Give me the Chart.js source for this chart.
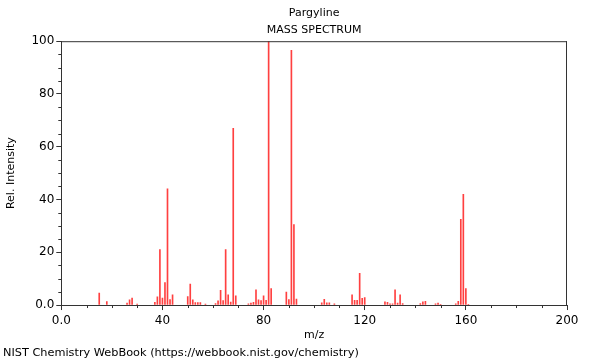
<!DOCTYPE html>
<html>
<head>
<meta charset="utf-8">
<script src="https://cdn.jsdelivr.net/npm/chart.js@4"></script>
<style>
  html, body { margin: 0; padding: 0; background: #fff; }
  #wrap { width: 600px; height: 360px; }
</style>
</head>
<body>
<div id="wrap"><canvas id="spectrum" width="600" height="360"></canvas></div>
<script>
// m/z values and relative intensities
const mz = [15, 18, 26, 27, 28, 30, 37, 38, 39, 40, 41, 42, 43, 44,
  50, 51, 52, 53, 54, 55, 57, 61, 62, 63, 64, 65, 66, 67, 68, 69,
  74, 75, 76, 77, 78, 79, 80, 81, 82, 83, 89, 90, 91, 92, 93,
  103, 104, 105, 106, 108, 115, 116, 117, 118, 119, 120,
  128, 129, 130, 131, 132, 133, 134, 135, 142, 143, 144,
  148, 149, 150, 156, 157, 158, 159, 160, 161];
const intensity = [4.5, 1.3, 0.7, 2.0, 2.6, 0.4, 1.0, 3.1, 21, 2.6, 8.5, 44, 2.1, 3.9,
  3.2, 7.9, 2.0, 0.9, 0.9, 0.9, 0.4, 0.6, 1.6, 5.6, 1.7, 21, 3.9, 1.1, 67, 3.5,
  0.5, 0.7, 1.0, 5.8, 2.0, 1.7, 3.5, 1.8, 100, 6.2, 4.9, 2.1, 96.5, 30.5, 2.3,
  0.8, 2.2, 0.8, 0.8, 0.5, 3.9, 1.8, 1.8, 12, 2.5, 2.8,
  1.2, 1.0, 0.5, 0.5, 5.8, 0.7, 3.9, 0.6, 0.6, 1.2, 1.4,
  0.5, 0.7, 0.3, 0.5, 1.4, 32.5, 42, 6.2, 0.3];

const xMajor = [0, 40, 80, 120, 160, 200];
const yMajor = [0, 20, 40, 60, 80, 100];

const font = "'DejaVu Sans', sans-serif";
const axisColor = '#333';

const peaks = mz.map(function (m, i) { return { x: m, y: intensity[i] }; });

function tickLabel(v) {
  return v === 0 ? '0.0' : String(v);
}

// top/right frame lines and short minor ticks
const frame = {
  id: 'frame',
  afterDraw(chart) {
    const ctx = chart.ctx;
    const a = chart.chartArea;
    ctx.save();
    ctx.strokeStyle = axisColor;
    ctx.lineWidth = 1;
    ctx.beginPath();
    ctx.moveTo(a.left, a.top + 0.5);
    ctx.lineTo(a.right, a.top + 0.5);
    ctx.moveTo(a.right - 0.5, a.top);
    ctx.lineTo(a.right - 0.5, a.bottom);
    ctx.stroke();

    ctx.beginPath();
    const xs = chart.scales.x;
    xs.ticks.forEach(function (t) {
      if (xMajor.indexOf(t.value) < 0) {
        const px = Math.round(xs.getPixelForValue(t.value)) + 0.5;
        ctx.moveTo(px, a.bottom);
        ctx.lineTo(px, a.bottom + 3);
      }
    });
    const ys = chart.scales.y;
    ys.ticks.forEach(function (t) {
      if (yMajor.indexOf(t.value) < 0) {
        const py = Math.round(ys.getPixelForValue(t.value)) + 0.5;
        ctx.moveTo(a.left, py);
        ctx.lineTo(a.left - 3, py);
      }
    });
    ctx.stroke();
    ctx.restore();
  }
};

new Chart(document.getElementById('spectrum').getContext('2d'), {
  type: 'bar',
  data: {
    datasets: [{
      data: peaks,
      backgroundColor: 'rgba(255,0,0,0.75)',
      borderWidth: 0,
      barThickness: 1
    }]
  },
  options: {
    responsive: false,
    animation: false,
    layout: { padding: { left: 3, right: 33, top: 0, bottom: 0 } },
    plugins: {
      legend: { display: false },
      tooltip: { enabled: false },
      title: {
        display: true,
        text: ['Pargyline', 'MASS SPECTRUM'],
        fullSize: false,
        color: '#000',
        font: { family: font, size: 11, weight: 'normal', lineHeight: 1.6 },
        padding: { top: 4, bottom: 2 }
      },
      subtitle: {
        display: true,
        position: 'bottom',
        align: 'start',
        text: 'NIST Chemistry WebBook (https://webbook.nist.gov/chemistry)',
        color: '#000',
        font: { family: font, size: 11.3, weight: 'normal', lineHeight: 1.2 },
        padding: { top: 2, bottom: 0 }
      }
    },
    scales: {
      x: {
        type: 'linear',
        min: 0,
        max: 200,
        offset: false,
        grid: {
          offset: false,
          drawOnChartArea: false,
          tickLength: 5,
          tickColor: function (c) {
            return xMajor.indexOf(c.tick.value) >= 0 ? axisColor : 'rgba(0,0,0,0)';
          }
        },
        border: { color: axisColor },
        ticks: {
          stepSize: 10,
          autoSkip: false,
          maxRotation: 0,
          color: '#000',
          font: { family: font, size: 12 },
          padding: 4,
          callback: function (v) { return xMajor.indexOf(v) >= 0 ? tickLabel(v) : ''; }
        },
        title: {
          display: true,
          text: 'm/z',
          color: '#000',
          font: { family: font, size: 11 },
          padding: { top: 2, bottom: 2.5 }
        },
        afterFit: function (s) { s.height = 39.4; }
      },
      y: {
        min: 0,
        max: 100,
        grid: {
          drawOnChartArea: false,
          tickLength: 5,
          tickColor: function (c) {
            return yMajor.indexOf(c.tick.value) >= 0 ? axisColor : 'rgba(0,0,0,0)';
          }
        },
        border: { color: axisColor },
        ticks: {
          stepSize: 5,
          autoSkip: false,
          color: '#000',
          font: { family: font, size: 12 },
          padding: 2,
          callback: function (v) { return yMajor.indexOf(v) >= 0 ? tickLabel(v) : ''; }
        },
        title: {
          display: true,
          text: 'Rel. Intensity',
          color: '#000',
          font: { family: font, size: 11 },
          padding: { top: 2, bottom: 0 }
        },
        afterFit: function (s) { s.width = 58.3; }
      }
    }
  },
  plugins: [frame]
});
</script>
</body>
</html>
